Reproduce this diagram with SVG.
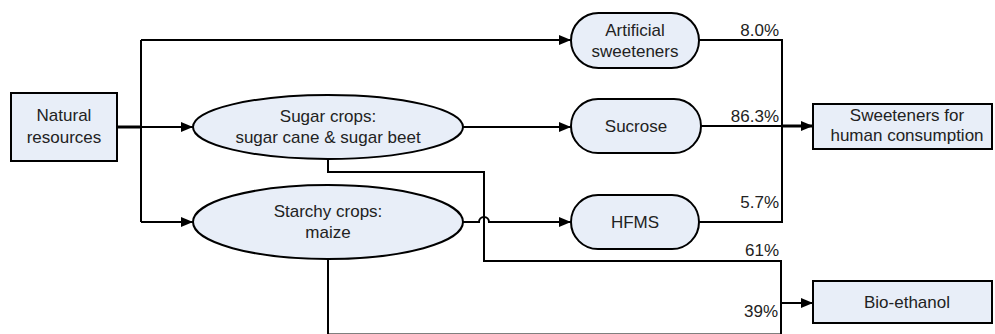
<svg xmlns="http://www.w3.org/2000/svg" width="995" height="334" viewBox="0 0 995 334">
<defs>
<marker id="arr" markerWidth="12" markerHeight="10" refX="12" refY="5" orient="auto" markerUnits="userSpaceOnUse">
<path d="M0,0 L12,5 L0,10 Z" fill="#000"/>
</marker>
<style>
.n{fill:#e8eef8;stroke:#000;stroke-width:2}
.t{font-family:"Liberation Sans",Arial,sans-serif;font-size:17px;fill:#222;text-anchor:middle}
.p{font-family:"Liberation Sans",Arial,sans-serif;font-size:17px;fill:#222;text-anchor:end}
.c{fill:none;stroke:#000;stroke-width:2}
.ct{fill:none;stroke:#000;stroke-width:3}
</style>
</defs>
<rect width="995" height="334" fill="#fff"/>
<g id="connectors">
<path class="ct" d="M117,127 H141"/>
<path class="c" d="M141,40 V222"/>
<path class="c" d="M141,40 H571" marker-end="url(#arr)"/>
<path class="c" d="M141,127 H193" marker-end="url(#arr)"/>
<path class="c" d="M141,222 H193" marker-end="url(#arr)"/>
<path class="c" d="M463,127 H571" marker-end="url(#arr)"/>
<path class="c" d="M463,222 H479 A5,5 0 0 1 489,222 H571" marker-end="url(#arr)"/>
<path class="c" d="M699,40 H782 V222 H699"/>
<path class="c" d="M701,126 H782"/>
<path class="ct" d="M782,126 H813" marker-end="url(#arr)"/>
<path class="c" d="M328,160 V172 H484 V261 H781 V336"/>
<path class="c" d="M328,259 V334.5 H781"/>
<path class="c" d="M781,303 H813" marker-end="url(#arr)"/>
<text class="p" x="779" y="36">8.0%</text>
<text class="p" x="779" y="122">86.3%</text>
<text class="p" x="779" y="208">5.7%</text>
<text class="p" x="779" y="256">61%</text>
<text class="p" x="778" y="317">39%</text>
</g>
<g id="natural">
<rect class="n" x="11" y="93" width="106" height="68"/>
<text class="t" x="64" y="121">Natural</text>
<text class="t" x="64" y="143">resources</text>
</g>
<g id="sugar">
<ellipse class="n" cx="328" cy="127" rx="135" ry="32"/>
<text class="t" x="328" y="122">Sugar crops:</text>
<text class="t" x="328" y="143">sugar cane &amp; sugar beet</text>
</g>
<g id="starchy">
<ellipse class="n" cx="328" cy="222" rx="135" ry="37"/>
<text class="t" x="328" y="217">Starchy crops:</text>
<text class="t" x="328" y="238">maize</text>
</g>
<g id="artificial">
<rect class="n" x="571" y="13" width="128" height="55" rx="27.5"/>
<text class="t" x="635" y="36">Artificial</text>
<text class="t" x="635" y="57">sweeteners</text>
</g>
<g id="sucrose">
<rect class="n" x="571" y="99" width="130" height="54" rx="27"/>
<text class="t" x="636" y="132">Sucrose</text>
</g>
<g id="hfms">
<rect class="n" x="571" y="195" width="128" height="54" rx="27"/>
<text class="t" x="635" y="228">HFMS</text>
</g>
<g id="sweeteners">
<rect class="n" x="813" y="104" width="179" height="45"/>
<text class="t" x="907" y="121">Sweeteners for</text>
<text class="t" x="907" y="141">human consumption</text>
</g>
<g id="bioethanol">
<rect class="n" x="813" y="281" width="179" height="42"/>
<text class="t" x="907" y="308">Bio-ethanol</text>
</g>
</svg>
